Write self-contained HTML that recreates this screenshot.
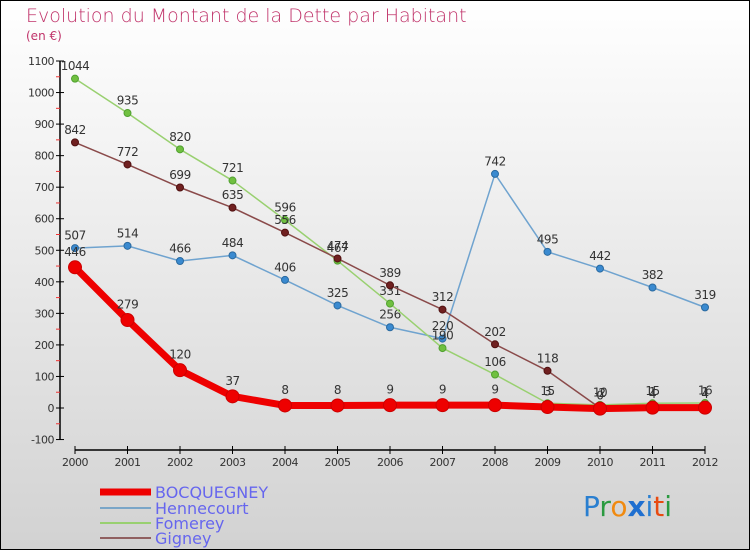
<!DOCTYPE html>
<html><head><meta charset="utf-8"><style>
body{margin:0}
#c{width:750px;height:550px;position:relative;font-family:"DejaVu Sans","Liberation Sans",sans-serif}
</style></head><body>
<div id="c">
<svg id="s" width="750" height="550" xmlns="http://www.w3.org/2000/svg">
<defs><linearGradient id="bg" x1="0" y1="0" x2="0" y2="1"><stop offset="0" stop-color="#ffffff"/><stop offset="1" stop-color="#d2d2d2"/></linearGradient></defs>
<rect x="0.5" y="0.5" width="749" height="549" fill="url(#bg)" stroke="#000"/>
<text x="26" y="22" font-size="19" fill="#c0336a" font-weight="200">Evolution du Montant de la Dette par Habitant</text>
<text x="26" y="40" font-size="12" fill="#c0336a">(en €)</text>
<g id="axes"></g><g id="series"></g>
<g>
<line x1="100" y1="492" x2="151" y2="492" stroke="#e00" stroke-width="7"/>
<text x="155" y="498" font-size="16" fill="#6666ee">BOCQUEGNEY</text>
<line x1="100" y1="508" x2="151" y2="508" stroke="#7aa6c8" stroke-width="2"/>
<text x="155" y="514" font-size="16" fill="#6666ee">Hennecourt</text>
<line x1="100" y1="523" x2="151" y2="523" stroke="#99d070" stroke-width="2"/>
<text x="155" y="529" font-size="16" fill="#6666ee">Fomerey</text>
<line x1="100" y1="538" x2="151" y2="538" stroke="#906060" stroke-width="2"/>
<text x="155" y="544" font-size="16" fill="#6666ee">Gigney</text>
</g>
<g font-size="28" font-family="DejaVu Sans, sans-serif">
<text x="583" y="516"><tspan fill="#2a7fd0">P</tspan><tspan fill="#2a9a40">r</tspan><tspan fill="#f08a10">o</tspan><tspan fill="#1f6fd0" font-weight="bold">x</tspan><tspan fill="#2a7fd0">i</tspan><tspan fill="#e84a10">t</tspan><tspan fill="#2a9a40">i</tspan></text>
</g>
</svg>
</div>
<script>
const years=[2000,2001,2002,2003,2004,2005,2006,2007,2008,2009,2010,2011,2012];
const bocquegney=[446,279,120,37,8,8,9,9,9,3,-2,1,1];
const hennecourt=[507,514,466,484,406,325,256,220,742,495,442,382,319];
const fomerey=[1044,935,820,721,596,467,331,190,106,15,10,15,16];
const gigney=[842,772,699,635,556,474,389,312,202,118,0,4,4];
const yTicks=[-100,0,100,200,300,400,500,600,700,800,900,1000,1100];
const NS="http://www.w3.org/2000/svg";
const X=i=>75+i*52.5, Y=v=>408-v*347/1100;
function mk(t,a,p){const e=document.createElementNS(NS,t);for(const k in a)e.setAttribute(k,a[k]);p.appendChild(e);return e;}
const ax=document.getElementById('axes'), sr=document.getElementById('series');
const yl=mk('line',{x1:60,y1:Y(1100),x2:60,y2:Y(-100),stroke:'#000','stroke-width':1.5},ax);


yTicks.forEach((v,i)=>{
 mk('line',{x1:56,y1:Y(v),x2:64,y2:Y(v),stroke:'#000'},ax);
 if(i<yTicks.length-1)mk('line',{x1:56,y1:Y(v+50),x2:60,y2:Y(v+50),stroke:'#e33'},ax);
 const t=mk('text',{x:54,y:Y(v)+4,'text-anchor':'end','font-size':11,fill:'#333','letter-spacing':'-0.5'},ax);t.textContent=v;
 
 
});
const xl=mk('line',{x1:75,y1:450,x2:705,y2:450,stroke:'#000','stroke-width':1.5},ax);


years.forEach((y,i)=>{
 mk('line',{x1:X(i),y1:446,x2:X(i),y2:454,stroke:'#000'},ax);
 const t=mk('text',{x:X(i),y:466,'text-anchor':'middle','font-size':11,fill:'#333','letter-spacing':'-0.5'},ax);t.textContent=y;
 
 
});
function series(name,data,col,w,r,fill,stroke){
 const g=mk('g',{},sr);
 
 
 mk('polyline',{points:data.map((v,i)=>X(i)+','+Y(v)).join(' '),fill:'none',stroke:col,'stroke-width':w,'stroke-linejoin':'round'},g);
 data.forEach((v,i)=>{
  const c=mk('circle',{cx:X(i),cy:Y(v),r:r,fill:fill,stroke:stroke,'stroke-width':1},g);
  
  
  const t=mk('text',{x:X(i),y:Y(v)-(r+5),'text-anchor':'middle','font-size':12,fill:'#333','letter-spacing':'-0.5'},g);t.textContent=v;
 });
}
series('hennecourt',hennecourt,'#6fa3cf',1.5,3.5,'#3a8ad0','#2a6aa0');
series('fomerey',fomerey,'#99d070',1.5,3.5,'#70c040','#50a030');
series('gigney',gigney,'#8a4a4a',1.5,3.5,'#702020','#501010');
series('bocquegney',bocquegney,'#ee0000',7,6.5,'#e00','#c00');
</script>
</body></html>
